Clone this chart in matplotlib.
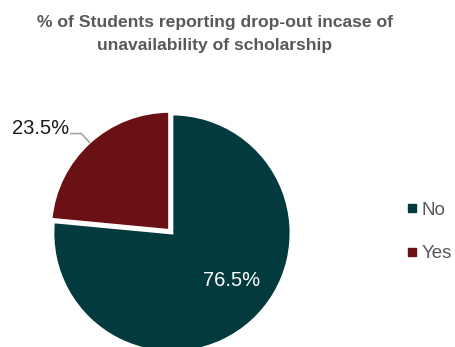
import numpy as np
import matplotlib.pyplot as plt
from matplotlib.lines import Line2D

# Survey answers
categories = ["No", "Yes"]
shares = [76.5, 23.5]
colors = ["#033a3e", "#6a1115"]
title = "% of Students reporting drop-out incase of\nunavailability of scholarship"

W, H = 456, 347
fig = plt.figure(figsize=(W / 100, H / 100), dpi=100)
fig.patch.set_facecolor("white")

# Square axes around the pie, radius ~119 px, centred at (171, 232) px from top
R = 119
cx, cy = 171, H - 232
lim = 1.25
side = 2 * lim * R
ax = fig.add_axes([(cx - side / 2) / W, (cy - side / 2) / H, side / W, side / H])
ax.set_xlim(-lim, lim)
ax.set_ylim(-lim, lim)
ax.set_aspect("equal")
ax.axis("off")

wedges, _ = ax.pie(
    shares,
    colors=colors,
    startangle=90,
    counterclock=False,
    explode=[0.012, 0.018],
    radius=1.0,
    wedgeprops=dict(edgecolor="white", linewidth=2),
)

font = "Liberation Sans"
grey = "#595959"

# Inner label for "No"
w0 = wedges[0]
a0 = np.deg2rad((w0.theta1 + w0.theta2) / 2)
ax.text(0.52 * np.cos(a0) + 0.16, 0.52 * np.sin(a0) - 0.02, f"{shares[0]}%",
        ha="center", va="center", color="white", fontsize=14.5, family=font)

# Outside label for "Yes" with an elbow leader line
w1 = wedges[1]
a1 = np.deg2rad((w1.theta1 + w1.theta2) / 2)
off = 0.018
ox, oy = off * np.cos(a1), off * np.sin(a1)
p_edge = (ox + 1.0 * np.cos(a1), oy + 1.0 * np.sin(a1))
p_elbow = (ox + 1.1 * np.cos(a1), oy + 1.1 * np.sin(a1))
p_end = (p_elbow[0] - 0.09, p_elbow[1])
ax.plot([p_edge[0], p_elbow[0], p_end[0]], [p_edge[1], p_elbow[1], p_end[1]],
        color="#a6a6a6", lw=1.2, clip_on=False, solid_joinstyle="miter")
ax.text(p_end[0] - 0.01, p_end[1] + 0.04, f"{shares[1]}%", ha="right", va="center",
        color="#1a1a1a", fontsize=14.5, family=font)

# Title
fig.text(215 / W, 1 - 34 / H, title, ha="center", va="center", fontsize=12.6,
         fontweight="bold", color=grey, family=font, linespacing=1.65)

# Legend
handles = [Line2D([0], [0], marker="s", linestyle="none", markersize=6,
                  markerfacecolor=c, markeredgecolor=c) for c in colors]
fig.legend(handles, categories, loc="center left",
           bbox_to_anchor=(406 / W, 1 - 232 / H), frameon=False,
           borderaxespad=0, borderpad=0,
           prop={"family": font, "size": 13.5}, labelcolor=grey,
           handlelength=0.6, handletextpad=0.25, labelspacing=1.4)

fig.savefig("out.png", dpi=100, facecolor="white")
